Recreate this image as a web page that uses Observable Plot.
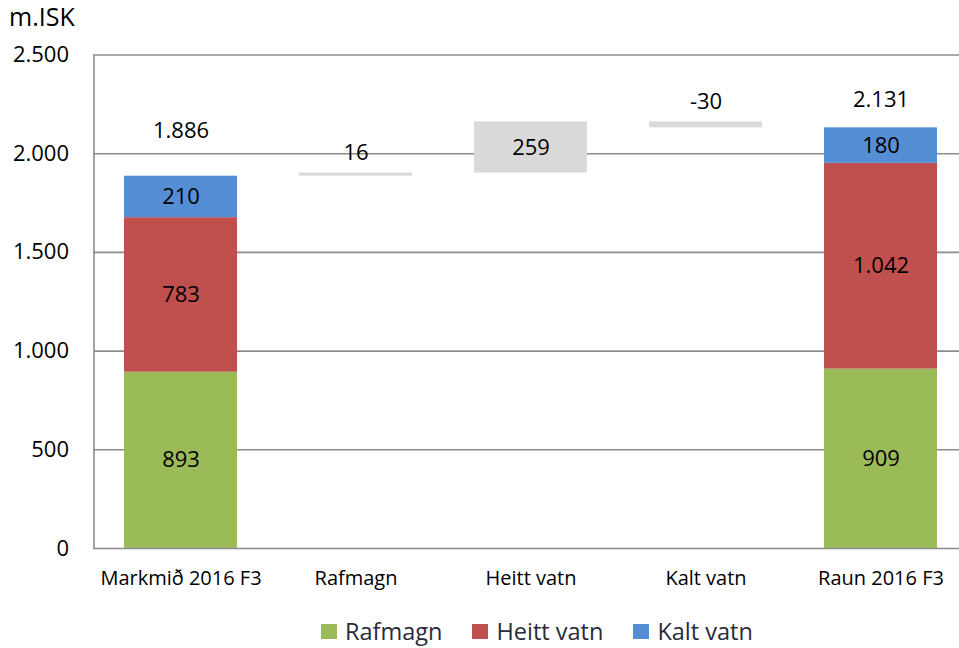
<!DOCTYPE html>
<html><head><meta charset="utf-8">
<script src="https://cdn.jsdelivr.net/npm/d3@7"></script>
<script src="https://cdn.jsdelivr.net/npm/@observablehq/plot@0.6"></script>
<style>
body{margin:0;background:#fff;font-family:"Open Sans",Lato,sans-serif;}
#wrap{position:relative;width:959px;height:648px;overflow:hidden;}
#title{position:absolute;left:9px;top:-1px;font-size:25px;color:#000;}
#chart{position:absolute;left:0;top:0;}
#legend{position:absolute;left:321px;top:615px;display:flex;align-items:center;font-size:23.5px;color:#2a2a3a;}
.item{display:flex;align-items:center;margin-right:30px;}
.sw{width:16px;height:15px;margin-right:8px;}
</style></head>
<body><div id="wrap"><div id="chart"></div><div id="title">m.ISK</div><div id="legend"></div></div>
<script>
const categories = ["Markmið 2016 F3","Rafmagn","Heitt vatn","Kalt vatn","Raun 2016 F3"];
const series = ["Rafmagn","Heitt vatn","Kalt vatn"];
const colors = ["#9BBB59","#C0504D","#558ED5"];
const markmid = [893, 783, 210];
const raun = [909, 1042, 180];
const changes = [16, 259, -30];
const totals = [1886, 2131];
const yTicks = [0, 500, 1000, 1500, 2000, 2500];

const loc = d3.formatLocale({decimal: ",", thousands: ".", grouping: [3], currency: ["", ""], minus: "-"});
const fmt = loc.format(",");

// stacked totals
const stacked = [];
[[categories[0], markmid], [categories[4], raun]].forEach(([cat, vals]) => {
  let acc = 0;
  vals.forEach((v, i) => {
    stacked.push({cat, series: series[i], y1: acc, y2: acc + v, mid: acc + v / 2, value: v});
    acc += v;
  });
});
const totalRows = [
  {cat: categories[0], value: totals[0]},
  {cat: categories[4], value: totals[1]}
];
// waterfall changes
const wf = [];
let run = totals[0];
changes.forEach((c, i) => {
  wf.push({cat: categories[i + 1], y1: run, y2: run + c, top: Math.max(run, run + c), mid: run + c / 2, value: c});
  run += c;
});

const font = "'Open Sans', Lato, sans-serif";
const plot = Plot.plot({
  width: 959,
  height: 600,
  marginLeft: 93.5,
  marginRight: 0,
  marginTop: 54.5,
  marginBottom: 52,
  style: {fontFamily: font, fontSize: "20px", color: "#000", background: "#fff"},
  x: {domain: categories, range: [93.5, 968.5], paddingInner: 0.354, paddingOuter: 0.177, label: null},
  y: {domain: [0, 2500], label: null},
  color: {domain: series, range: colors},
  marks: [
    Plot.ruleY(yTicks.filter(d => d > 0), {stroke: "#8c8c8c", strokeWidth: 1.6}),
    Plot.barY(stacked, {x: "cat", y1: "y1", y2: "y2", fill: "series"}),
    Plot.barY(wf, {x: "cat", y1: "y1", y2: "y2", fill: "#d9d9d9"}),
    Plot.ruleY([0], {stroke: "#8c8c8c", strokeWidth: 1.6}),
    Plot.frame({anchor: "left", stroke: "#8c8c8c", strokeWidth: 1.6}),
    Plot.text(stacked, {x: "cat", y: "mid", text: d => fmt(d.value), fontSize: 22, fill: "#000"}),
    Plot.text(totalRows.slice(0, 1), {x: "cat", y: "value", text: d => fmt(d.value), fontSize: 22, fill: "#000", dy: -45}),
    Plot.text(totalRows.slice(1), {x: "cat", y: "value", text: d => fmt(d.value), fontSize: 22, fill: "#000", dy: -28}),
    Plot.text(wf.filter(d => Math.abs(d.value) < 100), {x: "cat", y: "top", text: d => fmt(d.value), fontSize: 22, fill: "#000", dy: -20}),
    Plot.text(wf.filter(d => Math.abs(d.value) >= 100), {x: "cat", y: "mid", text: d => fmt(d.value), fontSize: 22, fill: "#000"}),
    Plot.axisY({ticks: yTicks, tickFormat: fmt, tickSize: 0, tickPadding: 25, fontSize: 22}),
    Plot.axisX({tickSize: 0, tickPadding: 22, fontSize: 20})
  ]
});
document.getElementById("chart").appendChild(plot);

const legend = document.getElementById("legend");
series.forEach((s, i) => {
  const item = document.createElement("div");
  item.className = "item";
  const sw = document.createElement("div");
  sw.className = "sw";
  sw.style.background = colors[i];
  const t = document.createElement("span");
  t.textContent = s;
  item.appendChild(sw); item.appendChild(t);
  legend.appendChild(item);
});
</script></body></html>
